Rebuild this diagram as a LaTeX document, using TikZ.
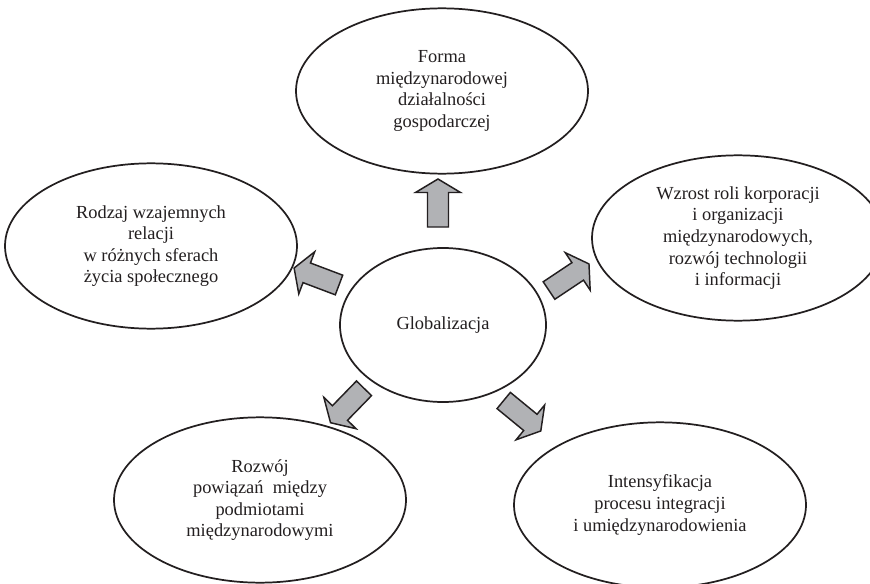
\documentclass[tikz,border=0pt]{standalone}
\usepackage{fontspec}
\setmainfont{Liberation Serif}
\usetikzlibrary{shapes.geometric}
\definecolor{arrowgray}{RGB}{177,178,181}
\definecolor{inkcol}{RGB}{35,31,32}
\tikzset{
  bubble/.style={draw=inkcol, line width=1.3pt, ellipse, inner sep=0pt, outer sep=0pt,
    minimum width=219pt, minimum height=124pt, align=center, text=inkcol,
    font=\fontsize{13.8}{16.2}\selectfont},
  centerbubble/.style={bubble, minimum width=154.5pt, minimum height=115.5pt},
  arrowstyle/.style={draw=inkcol, fill=arrowgray, line width=1.1pt, line join=miter},
  blockarrow/.pic={\draw[arrowstyle] (0,-10.5) -- (34.5,-10.5) -- (34.5,-22.5) -- (48,0) -- (34.5,22.5) -- (34.5,10.5) -- (0,10.5) -- cycle;}
}
\begin{document}
\begin{tikzpicture}[x=0.75pt, y=0.75pt]
\useasboundingbox (0,0) rectangle (870,583);
\clip (0,0) rectangle (870,583);
\fill[white] (0,0) rectangle (870,583);
% nodes
\node[centerbubble] (C) at (443,258) {Globalizacja};
\node[bubble] (T) at (442,492) {Forma\\międzynarodowej\\działalności\\gospodarczej};
\node[bubble] (L) at (151,337) {Rodzaj wzajemnych\\relacji\\w różnych sferach\\życia społecznego};
\node[bubble] (R) at (738,345) {Wzrost roli korporacji\\i organizacji\\międzynarodowych,\\rozwój technologii\\i informacji};
\node[bubble] (BL) at (260,83) {Rozwój\\powiązań~ między\\podmiotami\\międzynarodowymi};
\node[bubble] (BR) at (660,78) {Intensyfikacja\\procesu integracji\\i umiędzynarodowienia};
% block arrows from Globalizacja towards the outer ellipses
\pic[rotate=90] at (438,356) {blockarrow};
\pic[rotate=159.3] at (339,298) {blockarrow};
\pic[rotate=33.6] at (549,292.5) {blockarrow};
\pic[rotate=225.8] at (364,194.7) {blockarrow};
\pic[rotate=-39.4] at (503.7,182.5) {blockarrow};
\end{tikzpicture}
\end{document}
